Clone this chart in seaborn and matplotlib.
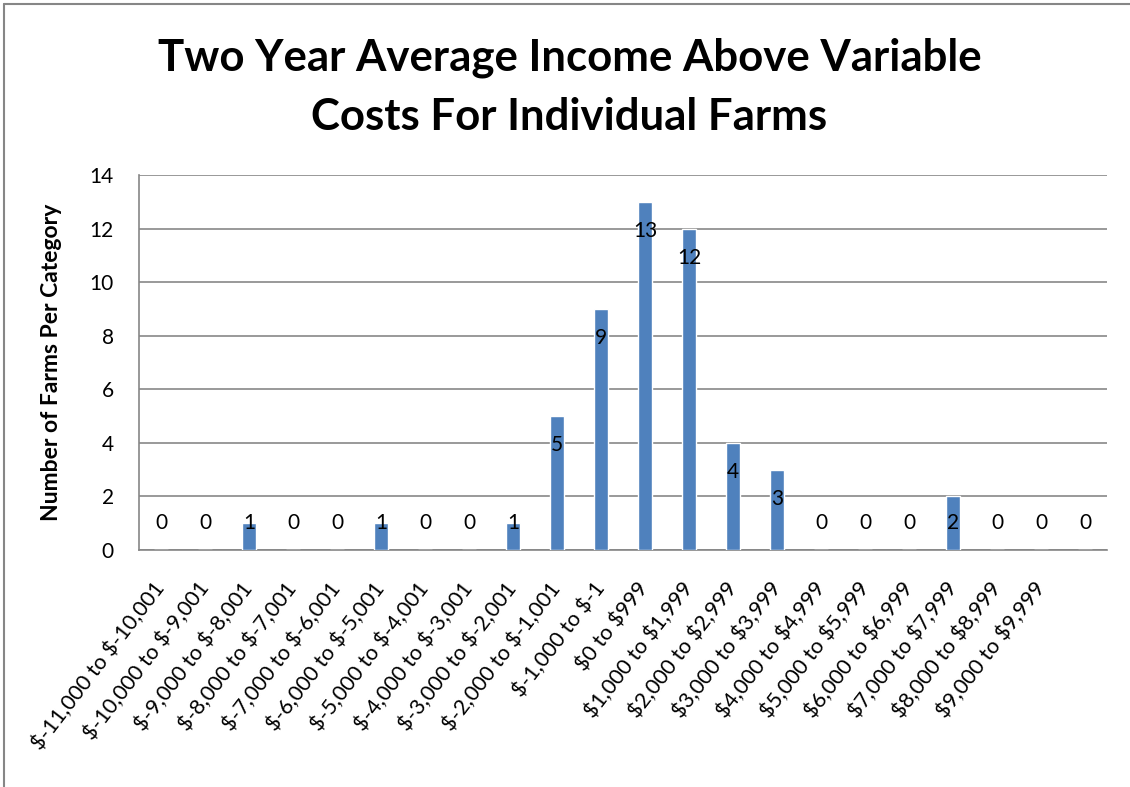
import matplotlib
matplotlib.use("Agg")
import matplotlib.pyplot as plt
import seaborn as sns
import pandas as pd
import numpy as np

categories = ["$-11,000 to $-10,001", "$-10,000 to $-9,001", "$-9,000 to $-8,001",
              "$-8,000 to $-7,001", "$-7,000 to $-6,001", "$-6,000 to $-5,001",
              "$-5,000 to $-4,001", "$-4,000 to $-3,001", "$-3,000 to $-2,001",
              "$-2,000 to $-1,001", "$-1,000 to $-1", "$0 to $999",
              "$1,000 to $1,999", "$2,000 to $2,999", "$3,000 to $3,999",
              "$4,000 to $4,999", "$5,000 to $5,999", "$6,000 to $6,999",
              "$7,000 to $7,999", "$8,000 to $8,999", "$9,000 to $9,999", ""]
farms = [0, 0, 1, 0, 0, 1, 0, 0, 1, 5, 9, 13, 12, 4, 3, 0, 0, 0, 2, 0, 0, 0]
yticks = [0, 2, 4, 6, 8, 10, 12, 14]

sns.set_style("white")
plt.rcParams["font.family"] = ["Lato", "DejaVu Sans"]
plt.rcParams["text.parse_math"] = False

df = pd.DataFrame({"range": categories, "farms": farms})

fig = plt.figure(figsize=(11.3, 7.87), dpi=100)
ax = fig.add_axes([139 / 1130, 1 - 550 / 787, 968 / 1130, 375 / 787])

sns.barplot(data=df, x="range", y="farms", order=categories, color="#4F81BD",
            width=0.3, saturation=1, ax=ax, zorder=3)

ax.set_ylim(0, 14)
ax.set_xlim(-0.5, len(categories) - 0.5)
ax.set_yticks(yticks)
ax.yaxis.grid(True, color="#878787", linewidth=1.2, zorder=0)
ax.set_axisbelow(True)

for s in ["top", "right"]:
    ax.spines[s].set_visible(False)
for s in ["left", "bottom"]:
    ax.spines[s].set_color("#868686")
    ax.spines[s].set_linewidth(1.2)

# category boundary ticks
ax.set_xticks(np.arange(-0.5, len(categories)), minor=True)
ax.tick_params(axis="x", which="minor", length=7, color="#868686", width=1.2, direction="out")
ax.tick_params(axis="x", which="major", length=0, pad=25)
ax.tick_params(axis="y", length=7, color="#868686", width=1.2, direction="out",
               labelsize=15, pad=11, labelcolor="black")
ax.set_xticks(range(len(categories)))
ax.set_xticklabels(categories, rotation=52.5, ha="right", va="center",
                   rotation_mode="anchor", fontsize=15.5, color="black")
for lbl in ax.get_xticklabels():
    lbl.set_x(lbl.get_position()[0] + 0.08)

ax.set_xlabel("")
ax.set_ylabel("Number of Farms Per Category", fontsize=16.5, fontweight="bold",
              labelpad=20, color="black")

# data labels, inside end of bar
for i, v in enumerate(farms):
    ax.text(i, max(v - 1.08, 1.0), str(v), ha="center", va="center", fontsize=15,
            color="black", zorder=4)

fig.text(0.504, 1 - 58 / 787, "Two Year Average Income Above Variable",
         ha="center", va="center", fontsize=31.5, fontweight="bold", color="black")
fig.text(0.504, 1 - 117 / 787, "Costs For Individual Farms",
         ha="center", va="center", fontsize=31.5, fontweight="bold", color="black")

# chart area border (top and left visible)
fig.add_artist(plt.Line2D([4 / 1130, 4 / 1130], [0, 1 - 4 / 787],
                          transform=fig.transFigure, color="#868686", linewidth=1.5))
fig.add_artist(plt.Line2D([4 / 1130, 1], [1 - 4 / 787, 1 - 4 / 787],
                          transform=fig.transFigure, color="#868686", linewidth=1.5))

fig.savefig("out.png", dpi=100)
